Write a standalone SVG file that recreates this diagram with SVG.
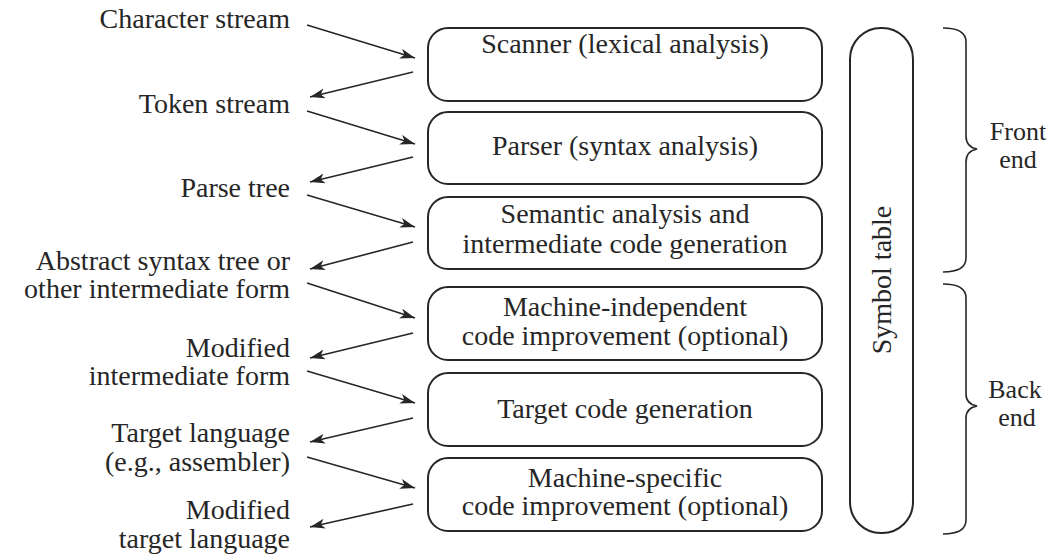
<svg xmlns="http://www.w3.org/2000/svg" width="1052" height="556" viewBox="0 0 1052 556">
<style>
text{font-family:"Liberation Serif","Times New Roman",serif;font-size:28px;fill:#262626}
.lbl{text-anchor:end}
.mid{text-anchor:middle}
.side{text-anchor:middle;font-size:26px}
.box{fill:none;stroke:#262626;stroke-width:2}
.arr{stroke:#262626;stroke-width:1.6;fill:none;marker-end:url(#ah)}
.brace{fill:none;stroke:#262626;stroke-width:1.6}
</style>
<defs>
<marker id="ah" markerUnits="userSpaceOnUse" markerWidth="16" markerHeight="12" refX="15" refY="5" orient="auto">
<path d="M0,0 L15,5 L0,10 L4,5 z" fill="#262626"/>
</marker>
</defs>
<rect width="1052" height="556" fill="#fff"/>

<g id="labels">
<text class="lbl" x="290" y="28">Character stream</text>
<text class="lbl" x="290" y="113">Token stream</text>
<text class="lbl" x="290" y="197">Parse tree</text>
<text class="lbl" x="290" y="270">Abstract syntax tree or</text>
<text class="lbl" x="290" y="298">other intermediate form</text>
<text class="lbl" x="290" y="357">Modified</text>
<text class="lbl" x="290" y="385">intermediate form</text>
<text class="lbl" x="290" y="442">Target language</text>
<text class="lbl" x="290" y="471">(e.g., assembler)</text>
<text class="lbl" x="290" y="519">Modified</text>
<text class="lbl" x="290" y="548">target language</text>
</g>

<g id="scanner">
<rect class="box" x="428" y="28" width="394" height="73" rx="20" ry="20"/>
<text class="mid" x="625" y="53">Scanner (lexical analysis)</text>
</g>
<g id="parser">
<rect class="box" x="428" y="112" width="394" height="72" rx="20" ry="20"/>
<text class="mid" x="625" y="155">Parser (syntax analysis)</text>
</g>
<g id="semantic">
<rect class="box" x="428" y="197" width="394" height="72" rx="20" ry="20"/>
<text class="mid" x="625" y="223">Semantic analysis and</text>
<text class="mid" x="625" y="253">intermediate code generation</text>
</g>
<g id="mi-improve">
<rect class="box" x="428" y="287" width="394" height="73" rx="20" ry="20"/>
<text class="mid" x="625" y="316">Machine-independent</text>
<text class="mid" x="625" y="345">code improvement (optional)</text>
</g>
<g id="codegen">
<rect class="box" x="428" y="373" width="394" height="73" rx="20" ry="20"/>
<text class="mid" x="625" y="418">Target code generation</text>
</g>
<g id="ms-improve">
<rect class="box" x="428" y="458" width="394" height="73" rx="20" ry="20"/>
<text class="mid" x="625" y="487">Machine-specific</text>
<text class="mid" x="625" y="515">code improvement (optional)</text>
</g>

<g id="symbol-table">
<rect class="box" x="850" y="28" width="63" height="505" rx="31" ry="31"/>
<text class="mid" transform="translate(891,280) rotate(-90)">Symbol table</text>
</g>

<g id="front-end">
<path class="brace" d="M943,28 Q966,28 966,42 L966,136 Q966,147 977,149 Q966,151 966,162 L966,258 Q966,272 943,272"/>
<text class="side" x="1018" y="140">Front</text>
<text class="side" x="1018" y="168">end</text>
</g>
<g id="back-end">
<path class="brace" d="M943,284 Q966,284 966,298 L966,394 Q966,404 977,406 Q966,408 966,418 L966,520 Q966,534 943,534"/>
<text class="side" x="1015" y="398">Back</text>
<text class="side" x="1017" y="426">end</text>
</g>

<g id="connectors">
<line class="arr" x1="307" y1="25" x2="415" y2="58"/>
<line class="arr" x1="413" y1="72" x2="310" y2="97"/>
<line class="arr" x1="307" y1="111" x2="415" y2="144"/>
<line class="arr" x1="413" y1="157" x2="310" y2="182"/>
<line class="arr" x1="307" y1="195" x2="415" y2="227"/>
<line class="arr" x1="413" y1="242" x2="310" y2="269"/>
<line class="arr" x1="307" y1="283" x2="415" y2="318"/>
<line class="arr" x1="413" y1="333" x2="310" y2="358"/>
<line class="arr" x1="307" y1="371" x2="415" y2="403"/>
<line class="arr" x1="413" y1="418" x2="310" y2="442"/>
<line class="arr" x1="307" y1="457" x2="415" y2="488"/>
<line class="arr" x1="413" y1="504" x2="310" y2="527"/>
</g>
</svg>
